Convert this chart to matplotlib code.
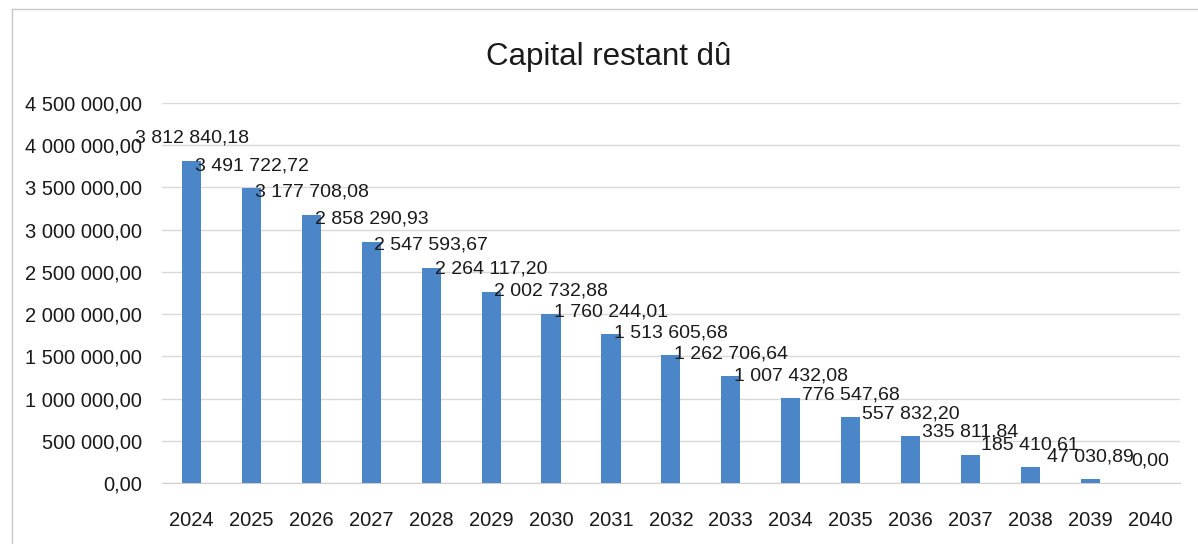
import matplotlib.pyplot as plt
from matplotlib.lines import Line2D

# Données : capital restant dû par année
years = [str(y) for y in range(2024, 2041)]
values = [3812840.18, 3491722.72, 3177708.08, 2858290.93, 2547593.67,
          2264117.20, 2002732.88, 1760244.01, 1513605.68, 1262706.64,
          1007432.08, 776547.68, 557832.20, 335811.84, 185410.61,
          47030.89, 0.00]
yticks = [0, 500000, 1000000, 1500000, 2000000, 2500000, 3000000, 3500000, 4000000, 4500000]


def fr_format(v):
    # format français : espace pour les milliers, virgule pour les décimales
    s = f"{v:,.2f}"
    return s.replace(",", " ").replace(".", ",")


plt.rcParams['font.family'] = ['Liberation Sans', 'DejaVu Sans']

fig = plt.figure(figsize=(11.98, 5.44), dpi=100)
ax = fig.add_axes([0.135, 0.112, 0.85, 0.699])

x = range(len(years))
ax.bar(x, values, width=0.32, color='#4a86c8', zorder=3)

for xi, v in zip(x, values):
    ax.annotate(fr_format(v), (xi, v), xytext=(0, 10), textcoords='offset points',
                ha='center', va='bottom', fontsize=14, color='#1a1a1a', zorder=4)

ax.set_xlim(-0.5, len(years) - 0.5)
ax.set_ylim(0, 4500000)
ax.set_xticks(list(x))
ax.set_xticklabels(years)
ax.set_yticks(yticks)
ax.set_yticklabels([fr_format(v) for v in yticks])
ax.tick_params(axis='both', length=0, labelsize=14.5, colors='#1a1a1a')
ax.tick_params(axis='y', pad=14)
ax.tick_params(axis='x', pad=20)

ax.grid(axis='y', color='#d9d9d9', linewidth=1, zorder=0)
for side in ['top', 'right', 'left']:
    ax.spines[side].set_visible(False)
ax.spines['bottom'].set_color('#d0d0d0')

fig.text(0.508, 0.895, 'Capital restant dû', ha='center', va='center',
         fontsize=22.5, color='#1a1a1a')

# cadre du graphique (bords gauche et haut visibles)
fig.add_artist(Line2D([0.010, 0.010], [0.0, 0.983], color='#c8c8c8', linewidth=1,
                      transform=fig.transFigure))
fig.add_artist(Line2D([0.010, 1.0], [0.983, 0.983], color='#c8c8c8', linewidth=1,
                      transform=fig.transFigure))

fig.savefig('out.png', dpi=100, facecolor='white')
